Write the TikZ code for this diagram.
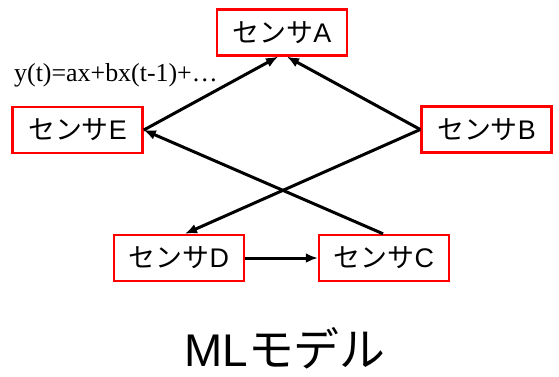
\documentclass[tikz,border=0pt]{standalone}
\usepackage{fontspec}
\setmainfont{Liberation Sans}
\newfontfamily\jp{Noto Sans CJK JP}
\newfontfamily\tms{Liberation Serif}
\usetikzlibrary{arrows.meta}
\begin{document}
\begin{tikzpicture}[x=1bp,y=-1bp,
  sensor/.style={draw=red,line width=2.5bp,fill=white,minimum width=130bp,minimum height=46bp,inner sep=0pt,font=\fontsize{27}{30}\selectfont},
  conn/.style={line width=3bp,-{Latex[length=12bp,width=10bp]}}]
\useasboundingbox (0,0) rectangle (559,376);
\node[sensor] (A) at (282,32.5) {{\jp センサ}A};
\node[sensor] (E) at (77.5,130) {{\jp センサ}E};
\node[sensor] (B) at (486.5,129.5) {{\jp センサ}B};
\node[sensor] (D) at (179,258) {{\jp センサ}D};
\node[sensor] (C) at (384,258) {{\jp センサ}C};
\node[anchor=west,inner sep=0pt,font=\tms\fontsize{26}{30}\selectfont] (eq) at (14,75) {y(t)=ax+bx(t-1)+…};
\node[inner sep=0pt,font=\fontsize{46}{50}\selectfont] (ml) at (285,348) {ML{\jp モデル}};
\draw[conn] (E.east) -- ([xshift=-4bp]A.south);
\draw[conn] (B.west) -- ([xshift=5bp]A.south);
\draw[conn] (B.west) -- ([xshift=6bp]D.north);
\draw[conn] ([xshift=-1bp]C.north) -- (E.east);
\draw[conn] (D.east) -- (C.west);
\end{tikzpicture}
\end{document}
